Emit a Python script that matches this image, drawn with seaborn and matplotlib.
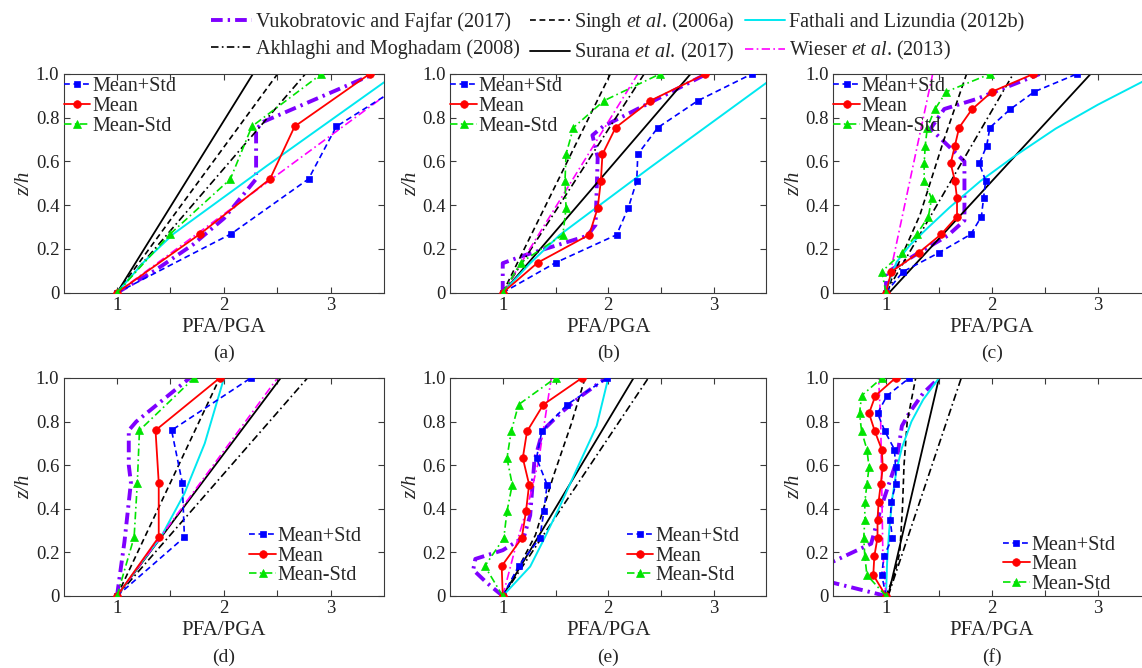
import matplotlib
matplotlib.use("Agg")
import matplotlib.pyplot as plt
import seaborn as sns

# ---------------------------------------------------------------- data
# storey levels (z/h) of the 4-, 8- and 12-storey frames
lv4 = [0, 0.27, 0.52, 0.76, 1.0]
lv8 = [0, 0.137, 0.265, 0.388, 0.511, 0.633, 0.755, 0.878, 1.0]
lv12 = [0, 0.096, 0.183, 0.267, 0.348, 0.431, 0.512, 0.591, 0.672,
        0.755, 0.838, 0.919, 1.0]

# statistics of the floor acceleration ratios, panels (a)-(f)
mps_a = [1.0, 2.07, 2.79, 3.05, 3.83]
mean_a = [1.0, 1.78, 2.43, 2.66, 3.36]
mms_a = [1.0, 1.50, 2.06, 2.26, 2.91]

mps_b = [1.0, 1.50, 2.08, 2.19, 2.27, 2.28, 2.47, 2.85, 3.36]
mean_b = [1.0, 1.33, 1.82, 1.90, 1.93, 1.945, 2.07, 2.40, 2.92]
mms_b = [1.0, 1.17, 1.57, 1.60, 1.59, 1.60, 1.67, 1.96, 2.49]

mps_c = [1.0, 1.16, 1.50, 1.80, 1.90, 1.92, 1.94, 1.88, 1.95, 1.98, 2.17, 2.40, 2.80]
mean_c = [1.0, 1.05, 1.31, 1.52, 1.67, 1.67, 1.65, 1.61, 1.65, 1.69, 1.81, 2.00, 2.39]
mms_c = [1.0, 0.96, 1.15, 1.29, 1.40, 1.43, 1.36, 1.36, 1.37, 1.39, 1.46, 1.57, 1.98]

mps_d = [1.0, 1.63, 1.61, 1.51, 2.25]
mean_d = [1.0, 1.39, 1.39, 1.36, 1.96]
mms_d = [1.0, 1.16, 1.19, 1.21, 1.72]

mps_e = [1.0, 1.15, 1.35, 1.39, 1.42, 1.32, 1.37, 1.61, 1.99]
mean_e = [1.0, 0.99, 1.18, 1.22, 1.25, 1.19, 1.23, 1.385, 1.75]
mms_e = [1.0, 0.83, 1.01, 1.04, 1.09, 1.04, 1.08, 1.15, 1.50]

mps_f = [1.0, 0.96, 0.98, 1.06, 1.04, 1.05, 1.09, 1.09, 1.08, 0.99, 0.92, 1.01, 1.22]
mean_f = [1.0, 0.88, 0.89, 0.92, 0.92, 0.93, 0.95, 0.97, 0.96, 0.895, 0.84, 0.90, 1.09]
mms_f = [1.0, 0.82, 0.80, 0.79, 0.80, 0.80, 0.82, 0.84, 0.82, 0.77, 0.75, 0.77, 0.96]

# code-based / literature profiles (x = PFA/PGA, y = z/h)
vuk_a_x = [1.0, 1.35, 1.71, 2.00, 2.20, 2.30, 2.30, 2.36, 3.40]
vuk_a_y = [0, 0.10, 0.22, 0.34, 0.46, 0.52, 0.745, 0.78, 1.0]
singh_a_x, singh_a_y = [1.0, 2.50], [0, 1.0]
akh_a_x, akh_a_y = [1.0, 2.76], [0, 1.0]
sur_a_x, sur_a_y = [1.0, 2.27], [0, 1.0]
fat_a_x = [1.0, 1.25, 1.53, 2.40, 3.49, 3.62]
fat_a_y = [0, 0.14, 0.27, 0.58, 0.96, 1.0]
wie_a_x, wie_a_y = [1.0, 3.78], [0, 1.0]

vuk_b_x = [1.0, 1.0, 1.2, 1.80, 1.88, 1.90, 1.85, 1.95, 2.40, 2.93]
vuk_b_y = [0, 0.135, 0.17, 0.26, 0.31, 0.62, 0.72, 0.76, 0.87, 1.0]
singh_b_x, singh_b_y = [1.0, 2.02], [0, 1.0]
akh_b_x, akh_b_y = [1.0, 2.34], [0, 1.0]
sur_b_x, sur_b_y = [1.0, 2.78], [0, 1.0]
fat_b_x = [1.0, 1.25, 1.54, 2.39, 3.50, 3.62]
fat_b_y = [0, 0.13, 0.264, 0.57, 0.96, 1.0]
wie_b_x, wie_b_y = [1.0, 2.28], [0, 1.0]

vuk_c_x = [1.0, 1.0, 1.30, 1.58, 1.74, 1.74, 1.42, 1.55, 1.85, 2.45]
vuk_c_y = [0, 0.09, 0.18, 0.26, 0.33, 0.60, 0.75, 0.84, 0.885, 1.0]
singh_c_x = [1.0, 1.06, 1.32, 1.54, 1.76]
singh_c_y = [0, 0.07, 0.355, 0.69, 1.0]
akh_c_x, akh_c_y = [1.0, 2.20], [0, 1.0]
sur_c_x, sur_c_y = [1.03, 2.93], [0, 1.0]
fat_c_x = [1.0, 1.04, 1.10, 1.23, 1.38, 1.60, 1.89, 2.20, 2.60, 3.00, 3.50]
fat_c_y = [0, 0.066, 0.14, 0.22, 0.29, 0.39, 0.51, 0.62, 0.75, 0.86, 0.985]
wie_c_x, wie_c_y = [1.0, 1.44], [0, 1.0]

vuk_d_x = [1.0, 1.07, 1.13, 1.11, 1.11, 1.18, 1.68]
vuk_d_y = [0, 0.25, 0.52, 0.60, 0.76, 0.80, 1.0]
singh_d_x, singh_d_y = [1.0, 1.96], [0, 1.0]
akh_d_x, akh_d_y = [1.0, 2.78], [0, 1.0]
sur_d_x, sur_d_y = [1.0, 2.53], [0, 1.0]
fat_d_x = [1.0, 1.20, 1.41, 1.63, 1.82, 2.00]
fat_d_y = [0, 0.135, 0.27, 0.47, 0.70, 1.0]
wie_d_x, wie_d_y = [1.0, 2.50], [0, 1.0]

vuk_e_x = [1.0, 0.85, 0.72, 0.74, 1.0, 1.20, 1.26, 1.30, 1.38, 1.55, 1.75, 1.98]
vuk_e_y = [0, 0.06, 0.12, 0.17, 0.21, 0.27, 0.37, 0.62, 0.76, 0.84, 0.92, 1.0]
singh_e_x = [1.0, 1.15, 1.31, 1.48, 1.65, 1.78]
singh_e_y = [0, 0.13, 0.28, 0.55, 0.79, 1.0]
akh_e_x, akh_e_y = [1.0, 2.38], [0, 1.0]
sur_e_x, sur_e_y = [1.0, 2.24], [0, 1.0]
fat_e_x = [1.0, 1.26, 1.39, 1.53, 1.70, 1.89, 2.00]
fat_e_y = [0, 0.135, 0.26, 0.40, 0.58, 0.78, 1.0]
wie_e_x = [1.0, 1.13, 1.24, 1.34, 1.46]
wie_e_y = [0, 0.24, 0.42, 0.62, 1.0]

vuk_f_x = [1.0, 0.30, 0.30, 0.86, 0.95, 1.10, 1.15, 1.22, 1.35, 1.50]
vuk_f_y = [0, 0.085, 0.112, 0.24, 0.40, 0.62, 0.78, 0.84, 0.93, 1.0]
singh_f_x = [1.0, 1.08, 1.13, 1.155, 1.17, 1.20, 1.28]
singh_f_y = [0, 0.10, 0.20, 0.40, 0.60, 0.80, 1.0]
akh_f_x, akh_f_y = [1.02, 1.71], [0, 1.0]
sur_f_x, sur_f_y = [1.02, 1.50], [0, 1.0]
fat_f_x = [1.0, 1.01, 1.03, 1.06, 1.10, 1.15, 1.24, 1.35, 1.50]
fat_f_y = [0, 0.15, 0.30, 0.45, 0.58, 0.68, 0.80, 0.90, 1.0]
wie_f_x = [1.0, 0.97, 0.96, 0.95, 0.93]
wie_f_y = [0, 0.20, 0.50, 0.80, 1.0]

model_labels = ["Vukobratovic and Fajfar (2017)",
                "Akhlaghi and Moghadam (2008)",
                r"Singh $\mathit{et\ al}$. (2006a)",
                r"Surana $\mathit{et\ al}$. (2017)",
                "Fathali and Lizundia (2012b)",
                r"Wieser $\mathit{et\ al}$. (2013)"]
stat_labels = ["Mean+Std", "Mean", "Mean-Std"]
panel_letters = ["a", "b", "c", "d", "e", "f"]
ytick_vals = [0, 0.2, 0.4, 0.6, 0.8, 1.0]
ytick_text = ["0", "0.2", "0.4", "0.6", "0.8", "1.0"]
xtick_vals = [1, 2, 3]

# ---------------------------------------------------------------- style
sns.set_style("ticks")
plt.rcParams.update({
    "font.family": ["Liberation Serif", "DejaVu Serif"],
    "mathtext.fontset": "custom",
    "mathtext.rm": "Liberation Serif",
    "mathtext.it": "Liberation Serif:italic",
    "axes.edgecolor": "#3a3a3a",
    "axes.linewidth": 0.8,
    "xtick.color": "#3a3a3a",
    "ytick.color": "#3a3a3a",
    "xtick.labelcolor": "#222222",
    "ytick.labelcolor": "#222222",
})

C_VUK = "#7f00ff"
C_CYAN = "#00e8f0"
C_MAG = "#ff00ff"
C_BLUE = "#0000ff"
C_RED = "#ff0000"
C_GREEN = "#00e400"

model_styles = [
    dict(color=C_VUK, lw=2.8, linestyle=(0, (3.0, 1.3, 0.6, 1.3))),
    dict(color="black", lw=1.2, linestyle=(0, (4.5, 2.0, 1.0, 2.0))),
    dict(color="black", lw=1.2, linestyle=(0, (3.5, 2.2))),
    dict(color="black", lw=1.3, linestyle="-"),
    dict(color=C_CYAN, lw=1.4, linestyle="-"),
    dict(color=C_MAG, lw=1.2, linestyle=(0, (5.0, 2.0, 1.0, 2.0))),
]
stat_styles = [
    dict(color=C_BLUE, lw=1.2, linestyle=(0, (3.5, 2.2)), marker="s", ms=5.0),
    dict(color=C_RED, lw=1.3, linestyle="-", marker="o", ms=5.5),
    dict(color=C_GREEN, lw=1.2, linestyle=(0, (4.5, 2.0, 1.0, 2.0)), marker="^", ms=6.0),
]

panels = [
    dict(models=[(vuk_a_x, vuk_a_y), (akh_a_x, akh_a_y), (singh_a_x, singh_a_y),
                 (sur_a_x, sur_a_y), (fat_a_x, fat_a_y), (wie_a_x, wie_a_y)],
         levels=lv4, stats=[mps_a, mean_a, mms_a]),
    dict(models=[(vuk_b_x, vuk_b_y), (akh_b_x, akh_b_y), (singh_b_x, singh_b_y),
                 (sur_b_x, sur_b_y), (fat_b_x, fat_b_y), (wie_b_x, wie_b_y)],
         levels=lv8, stats=[mps_b, mean_b, mms_b]),
    dict(models=[(vuk_c_x, vuk_c_y), (akh_c_x, akh_c_y), (singh_c_x, singh_c_y),
                 (sur_c_x, sur_c_y), (fat_c_x, fat_c_y), (wie_c_x, wie_c_y)],
         levels=lv12, stats=[mps_c, mean_c, mms_c]),
    dict(models=[(vuk_d_x, vuk_d_y), (akh_d_x, akh_d_y), (singh_d_x, singh_d_y),
                 (sur_d_x, sur_d_y), (fat_d_x, fat_d_y), (wie_d_x, wie_d_y)],
         levels=lv4, stats=[mps_d, mean_d, mms_d]),
    dict(models=[(vuk_e_x, vuk_e_y), (akh_e_x, akh_e_y), (singh_e_x, singh_e_y),
                 (sur_e_x, sur_e_y), (fat_e_x, fat_e_y), (wie_e_x, wie_e_y)],
         levels=lv8, stats=[mps_e, mean_e, mms_e]),
    dict(models=[(vuk_f_x, vuk_f_y), (akh_f_x, akh_f_y), (singh_f_x, singh_f_y),
                 (sur_f_x, sur_f_y), (fat_f_x, fat_f_y), (wie_f_x, wie_f_y)],
         levels=lv12, stats=[mps_f, mean_f, mms_f]),
]

# ---------------------------------------------------------------- layout (pixels)
W, H = 1142, 668
fig = plt.figure(figsize=(W / 100, H / 100), dpi=100)
col_left = [63.5, 450.0, 833.0]
col_width = [321.0, 316.5, 318.0]
row_top = [74.0, 378.0]
row_height = [218.7, 218.0]

# legend anchors (axes fraction) for the statistics
stat_leg = [
    dict(loc="upper left", bbox_to_anchor=(-0.005, 0.995)),
    dict(loc="upper left", bbox_to_anchor=(-0.005, 0.995)),
    dict(loc="upper left", bbox_to_anchor=(-0.005, 0.995)),
    dict(loc="lower right", bbox_to_anchor=(0.935, 0.04)),
    dict(loc="lower right", bbox_to_anchor=(0.92, 0.04)),
    dict(loc="lower right", bbox_to_anchor=(0.895, 0.0)),
]

model_handles = None
for i, p in enumerate(panels):
    r, c = divmod(i, 3)
    l, w = col_left[c], col_width[c]
    t, h = row_top[r], row_height[r]
    ax = fig.add_axes([l / W, 1 - (t + h) / H, w / W, h / H])

    handles = []
    for (mx, my), st in zip(p["models"], model_styles):
        sns.lineplot(x=mx, y=my, sort=False, estimator=None, ax=ax,
                     color=st["color"], lw=st["lw"], linestyle=st["linestyle"])
        handles.append(ax.get_lines()[-1])
    if model_handles is None:
        model_handles = handles

    shandles = []
    for vals, st in zip(p["stats"], stat_styles):
        sns.lineplot(x=vals, y=p["levels"], sort=False, estimator=None, ax=ax,
                     color=st["color"], lw=st["lw"], linestyle=st["linestyle"],
                     marker=st["marker"], markersize=st["ms"],
                     markeredgecolor=st["color"], markerfacecolor=st["color"],
                     markeredgewidth=0.5, zorder=3)
        shandles.append(ax.get_lines()[-1])

    ax.set_xlim(0.5, 3.5)
    ax.set_ylim(0, 1.0)
    ax.set_xticks(xtick_vals)
    ax.set_xticks([1.5, 2.5], minor=True)
    ax.set_yticks(ytick_vals)
    ax.set_yticklabels(ytick_text)
    ax.tick_params(which="both", direction="in", length=4, width=0.8,
                   top=True, right=True, labelsize=13.5, pad=3)
    for s in ax.spines.values():
        s.set_visible(True)
    ax.set_xlabel("PFA/PGA", fontsize=15, labelpad=3)
    ax.set_ylabel("z/h", fontsize=15, fontstyle="italic", labelpad=1)
    ax.annotate(f"({panel_letters[i]})", xy=(0.5, 0), xycoords="axes fraction",
                xytext=(0, -44), textcoords="offset points",
                ha="center", va="center", fontsize=14)

    ax.legend(shandles, stat_labels, frameon=False, fontsize=14.5,
              handlelength=1.3, handletextpad=0.1, labelspacing=0.03,
              borderpad=0.1, borderaxespad=0.0, **stat_leg[i])

fig.legend(model_handles, model_labels, loc="upper center",
           bbox_to_anchor=(0.541, 1.012), ncol=3, frameon=False, fontsize=14.5,
           handlelength=2.0, handletextpad=0.2, columnspacing=0.5,
           labelspacing=0.35)

fig.savefig("out.png", dpi=100)
